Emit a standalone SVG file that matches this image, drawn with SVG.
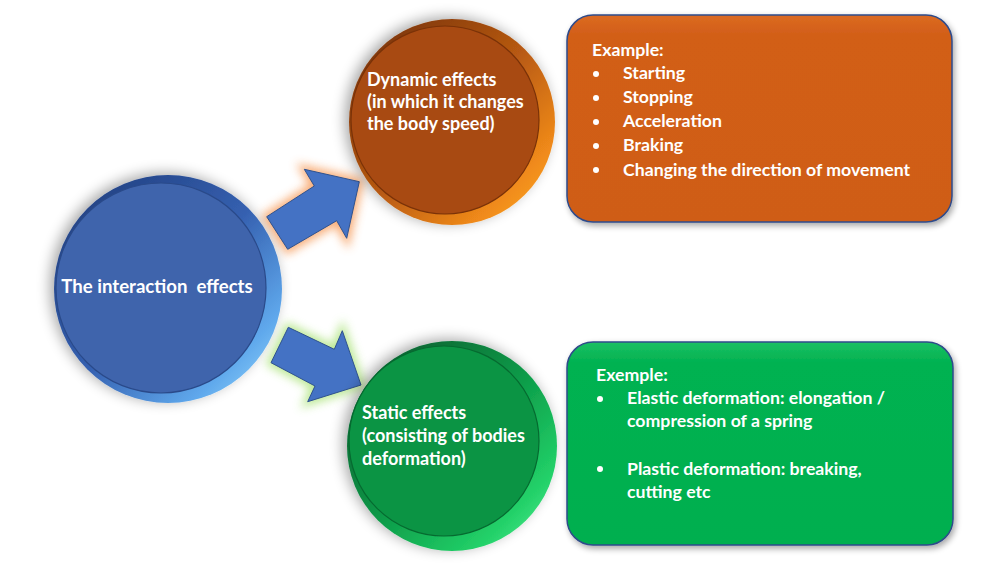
<svg xmlns="http://www.w3.org/2000/svg" width="1000" height="563" viewBox="0 0 1000 563">
<defs>
<style>
.t{font-family:Lato,"Open Sans","Liberation Sans",sans-serif;font-weight:bold;fill:#ffffff;font-size:17.7px}
.c{font-size:18px}
.m{font-size:18.6px}
.arrow{fill:#4472C4;stroke:#2F528F;stroke-width:1}
.box{stroke:#2F4B8A;stroke-width:1.5}
</style>
<filter id="shadow" x="-30%" y="-30%" width="160%" height="160%">
<feGaussianBlur in="SourceAlpha" stdDeviation="7"/>
<feOffset dx="-4" dy="-2" result="b"/>
<feComponentTransfer><feFuncA type="linear" slope="0.35"/></feComponentTransfer>
<feMerge><feMergeNode/><feMergeNode in="SourceGraphic"/></feMerge>
</filter>
<filter id="boxshadow" x="-10%" y="-10%" width="120%" height="130%">
<feGaussianBlur in="SourceAlpha" stdDeviation="3"/>
<feOffset dx="2" dy="3"/>
<feComponentTransfer><feFuncA type="linear" slope="0.35"/></feComponentTransfer>
<feMerge><feMergeNode/><feMergeNode in="SourceGraphic"/></feMerge>
</filter>
<filter id="glow" x="-40%" y="-40%" width="180%" height="180%">
<feGaussianBlur stdDeviation="5"/>
</filter>
<linearGradient id="rimBlue" x1="0" y1="0" x2="1" y2="1">
<stop offset="0" stop-color="#1E3A78"/>
<stop offset="0.5" stop-color="#3560B0"/>
<stop offset="0.8" stop-color="#5FA8EC"/>
<stop offset="1" stop-color="#9EE0FF"/>
</linearGradient>
<linearGradient id="rimOrange" x1="0" y1="0" x2="1" y2="1">
<stop offset="0" stop-color="#6E2C06"/>
<stop offset="0.5" stop-color="#B85A12"/>
<stop offset="0.8" stop-color="#F08A1A"/>
<stop offset="1" stop-color="#FFB030"/>
</linearGradient>
<linearGradient id="rimGreen" x1="0" y1="0" x2="1" y2="1">
<stop offset="0" stop-color="#05502A"/>
<stop offset="0.5" stop-color="#0C9A48"/>
<stop offset="0.8" stop-color="#22D068"/>
<stop offset="1" stop-color="#5CF59A"/>
</linearGradient>
<linearGradient id="boxOrange" x1="0" y1="0" x2="0" y2="1">
<stop offset="0" stop-color="#DB6A22"/>
<stop offset="0.1" stop-color="#D25E18"/>
<stop offset="1" stop-color="#CF5D16"/>
</linearGradient>
<linearGradient id="boxGreen" x1="0" y1="0" x2="0" y2="1">
<stop offset="0" stop-color="#1CC063"/>
<stop offset="0.1" stop-color="#02B251"/>
<stop offset="1" stop-color="#00AF4F"/>
</linearGradient>
</defs>

<g id="connectors">
<polygon points="266.7,216.7 314.3,186 304.3,169.3 359.3,181.7 346.7,238.3 336.7,220.7 287.7,249.3" fill="#F7A56A" stroke="#F7A56A" stroke-width="8" filter="url(#glow)" opacity="0.9"/>
<polygon class="arrow" points="266.7,216.7 314.3,186 304.3,169.3 359.3,181.7 346.7,238.3 336.7,220.7 287.7,249.3"/>
<polygon points="288.3,327.3 334.3,349.3 342.3,330.7 361,385 307.7,401.7 315,386 271,362.7" fill="#B5E68A" stroke="#B5E68A" stroke-width="8" filter="url(#glow)" opacity="0.9"/>
<polygon class="arrow" points="288.3,327.3 334.3,349.3 342.3,330.7 361,385 307.7,401.7 315,386 271,362.7"/>
</g>

<g id="node-interaction">
<circle cx="168" cy="289" r="114" fill="url(#rimBlue)" filter="url(#shadow)"/>
<circle cx="161" cy="288" r="105" fill="#3F64AC" stroke="#2A4A8A" stroke-width="1.2"/>
<text class="t m" x="157" y="293" text-anchor="middle">The interaction&#160; effects</text>
</g>

<g id="node-dynamic">
<circle cx="452" cy="122" r="103" fill="url(#rimOrange)" filter="url(#shadow)"/>
<circle cx="445" cy="120" r="94" fill="#A84A12" stroke="#7A3208" stroke-width="1.2"/>
<text class="t c" x="367" y="86">Dynamic effects</text>
<text class="t c" x="367" y="108">(in which it changes</text>
<text class="t c" x="367" y="130">the body speed)</text>
</g>

<g id="node-static">
<circle cx="452" cy="446" r="105" fill="url(#rimGreen)" filter="url(#shadow)"/>
<circle cx="444" cy="441" r="95" fill="#0B9444" stroke="#066A30" stroke-width="1.2"/>
<text class="t c" x="362" y="419">Static effects</text>
<text class="t c" x="362" y="442">(consisting of bodies</text>
<text class="t c" x="362" y="465">deformation)</text>
</g>

<g id="node-dynamic-examples">
<rect class="box" x="567" y="15" width="385" height="207" rx="26" fill="url(#boxOrange)" filter="url(#boxshadow)"/>
<text class="t" x="592" y="56">Example:</text>
<circle cx="596" cy="74" r="3" fill="#fff"/>
<circle cx="596" cy="98" r="3" fill="#fff"/>
<circle cx="596" cy="122" r="3" fill="#fff"/>
<circle cx="596" cy="146" r="3" fill="#fff"/>
<circle cx="596" cy="170" r="3" fill="#fff"/>
<text class="t" x="623" y="79">Starting</text>
<text class="t" x="623" y="103">Stopping</text>
<text class="t" x="623" y="127">Acceleration</text>
<text class="t" x="623" y="151">Braking</text>
<text class="t" x="623" y="176">Changing the direction of movement</text>
</g>

<g id="node-static-examples">
<rect class="box" x="567" y="342" width="386" height="203" rx="26" fill="url(#boxGreen)" filter="url(#boxshadow)"/>
<text class="t" x="596" y="381">Exemple:</text>
<circle cx="600" cy="399" r="3" fill="#fff"/>
<circle cx="600" cy="469" r="3" fill="#fff"/>
<text class="t" x="627" y="404">Elastic deformation: elongation /</text>
<text class="t" x="627" y="427">compression of a spring</text>
<text class="t" x="627" y="475">Plastic deformation: breaking,</text>
<text class="t" x="627" y="498">cutting etc</text>
</g>
</svg>
